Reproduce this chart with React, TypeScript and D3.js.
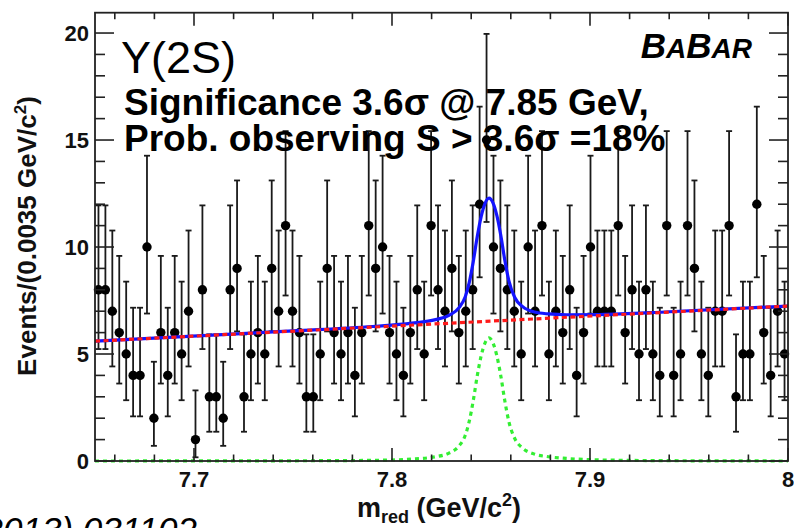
import React from "react";
import * as d3 from "d3";

// ---------- data ----------
const massMin = 7.65;
const massMax = 8.0;
const binWidth = 0.0035;
const counts = [
  8, 8, 7, 6, 5, 4, 4, 10, 2, 6,
  4, 6, 5, 7, 1, 8, 3, 3, 2, 8,
  9, 3, 5, 6, 5, 9, 7, 11, 7, 6,
  3, 3, 5, 9, 6, 5, 6, 4, 6, 11,
  9, 10, 6, 5, 4, 6, 8, 5, 11, 8,
  7, 9, 6, 7, 8, 12, 15, 10, 9, 8,
  7, 5, 10, 7, 11, 5, 7, 6, 8, 4,
  6, 10, 7, 7, 7, 11, 6, 8, 5, 8,
  5, 4, 11, 4, 5, 11, 9, 5, 4, 7,
  7, 11, 3, 5, 5, 12, 6, 4, 7, 5,
];
// background fit (linear)
const bgMass = [7.65, 8.0];
const bgValue = [5.6, 7.24];
// signal fit
const sigMass = [7.65, 7.75, 7.79, 7.81, 7.822, 7.829, 7.834, 7.837, 7.839, 7.841, 7.843, 7.845, 7.847, 7.849, 7.851, 7.853, 7.855, 7.857, 7.859, 7.862, 7.866, 7.872, 7.879, 7.888, 7.905, 7.94, 8.0];
const sigValue = [0, 0.01, 0.03, 0.09, 0.2, 0.38, 0.72, 1.2, 1.85, 2.8, 3.95, 4.9, 5.52, 5.75, 5.52, 4.9, 3.95, 2.8, 1.85, 1.05, 0.6, 0.32, 0.2, 0.12, 0.05, 0.015, 0];

const xMinorTicks = d3.range(0, 18).map((k) => +(7.66 + 0.02 * k).toFixed(2));
const xMajorTicks = [7.7, 7.8, 7.9, 8.0];
const xTickLabels = ["7.7", "7.8", "7.9", "8"];
const yMinorTicks = d3.range(0, 21);
const yMajorTicks = [0, 5, 10, 15, 20];
const yTickLabels = ["0", "5", "10", "15", "20"];

// ---------- helpers ----------
const Q = 0.158655;
function poisCdf(k: number, mu: number) {
  let term = Math.exp(-mu);
  let s = term;
  for (let j = 1; j <= k; j++) {
    term *= mu / j;
    s += term;
  }
  return s;
}
function lowerErr(n: number) {
  if (n === 0) return 0;
  let a = 0, b = n;
  for (let it = 0; it < 60; it++) {
    const m = (a + b) / 2;
    if (1 - poisCdf(n - 1, m) < Q) a = m; else b = m;
  }
  return (a + b) / 2;
}
function upperErr(n: number) {
  let a = n, b = n + 10 + 5 * Math.sqrt(n + 1);
  for (let it = 0; it < 60; it++) {
    const m = (a + b) / 2;
    if (poisCdf(n, m) > Q) a = m; else b = m;
  }
  return (a + b) / 2;
}

const FONT = "'Liberation Sans', Arial, Helvetica, sans-serif";

export default function App() {
  const W = 794, H = 528;
  const left = 95, right = 788, top = 12.7, bottom = 461;
  const x = d3.scaleLinear().domain([massMin, massMax]).range([left, right]);
  const y = d3.scaleLinear().domain([0, 20.95]).range([bottom, top]);
  const bg = d3.scaleLinear().domain(bgMass).range(bgValue);

  const bins = counts.map((n, i) => ({
    m: massMin + (i + 0.5) * binWidth,
    n,
    lo: lowerErr(n),
    hi: upperErr(n),
  }));

  const line = d3
    .line<[number, number]>()
    .x((d) => x(d[0]))
    .y((d) => y(d[1]))
    .curve(d3.curveMonotoneX);

  const totalPts: [number, number][] = sigMass.map((m, i) => [m, bg(m) + sigValue[i]]);
  const bgPts: [number, number][] = bgMass.map((m, i) => [m, bgValue[i]]);
  const sigPts: [number, number][] = sigMass.map((m, i) => [m, sigValue[i]]);

  const axisColor = "#222";

  return (
    <svg
      width={W}
      height={H}
      style={{ position: "absolute", left: 0, top: 0, background: "#fff" }}
      fontFamily={FONT}
    >
      <rect x={0} y={0} width={W} height={H} fill="#fff" />

      {/* data points with error bars */}
      <g stroke="#1a1a1a" strokeWidth={1.8}>
        {bins.map((b, i) => {
          const cx = x(b.m);
          const y1 = y(b.lo);
          const y2 = y(b.hi);
          return (
            <g key={i}>
              <line x1={cx} x2={cx} y1={y1} y2={y2} />
              {b.n > 0 && <line x1={cx - 3} x2={cx + 3} y1={y1} y2={y1} />}
              <line x1={cx - 3} x2={cx + 3} y1={y2} y2={y2} />
            </g>
          );
        })}
      </g>
      <g fill="#000">
        {bins.map((b, i) => (
          <circle key={i} cx={x(b.m)} cy={y(b.n)} r={4.7} />
        ))}
      </g>

      {/* fit curves */}
      <path d={line(totalPts) || ""} fill="none" stroke="#1414ff" strokeWidth={3.2} />
      <path d={line(bgPts) || ""} fill="none" stroke="#ff1a1a" strokeWidth={3.2} strokeDasharray="5,3.5" />
      <path d={line(sigPts) || ""} fill="none" stroke="#33ee33" strokeWidth={3.2} strokeDasharray="4,4" />

      {/* frame */}
      <rect x={left} y={top} width={right - left} height={bottom - top} fill="none" stroke={axisColor} strokeWidth={1.8} />

      {/* ticks */}
      <g stroke={axisColor} strokeWidth={1.6}>
        {xMinorTicks.map((t, i) => {
          const major = xMajorTicks.some((m) => Math.abs(m - t) < 1e-6);
          const len = major ? 13 : 6.5;
          return (
            <g key={i}>
              <line x1={x(t)} x2={x(t)} y1={bottom} y2={bottom - len} />
              <line x1={x(t)} x2={x(t)} y1={top} y2={top + len} />
            </g>
          );
        })}
        {yMinorTicks.map((t, i) => {
          const major = yMajorTicks.includes(t);
          const len = major ? 19 : 10;
          return (
            <g key={i}>
              <line x1={left} x2={left + len} y1={y(t)} y2={y(t)} />
              <line x1={right} x2={right - len} y1={y(t)} y2={y(t)} />
            </g>
          );
        })}
      </g>

      {/* tick labels */}
      <g fontWeight="bold" fontSize={22} fill="#111">
        {xMajorTicks.map((t, i) => (
          <text key={i} x={x(t)} y={487} textAnchor="middle">
            {xTickLabels[i]}
          </text>
        ))}
        {yMajorTicks.map((t, i) => (
          <text key={i} x={89} y={y(t) + 8} textAnchor="end">
            {yTickLabels[i]}
          </text>
        ))}
      </g>

      {/* axis titles */}
      <text x={357} y={517} fontWeight="bold" fontSize={27} fill="#111">
        m<tspan fontSize={18} dy={6}>red</tspan>
        <tspan dy={-6}> (GeV/c</tspan>
        <tspan fontSize={18} dy={-11}>2</tspan>
        <tspan dy={11}>)</tspan>
      </text>
      <text
        transform={`translate(36,236) rotate(-90)`}
        textAnchor="middle"
        fontWeight="bold"
        fontSize={26}
        fill="#111"
      >
        Events/(0.0035 GeV/c<tspan fontSize={17} dy={-10}>2</tspan>
        <tspan dy={10}>)</tspan>
      </text>

      {/* annotations */}
      <text x={121} y={73} fontSize={45} fill="#000">
        Y(2S)
      </text>
      <text x={124} y={115} fontSize={37} fontWeight="bold" fill="#000">
        Significance 3.6σ @ 7.85 GeV,
      </text>
      <text x={124} y={151} fontSize={37} fontWeight="bold" fill="#000">
        Prob. observing S &gt; 3.6σ =18%
      </text>
      <text x={752} y={58} textAnchor="end" fontWeight="bold" fontStyle="italic" fill="#000">
        <tspan fontSize={35}>B</tspan>
        <tspan fontSize={28}>A</tspan>
        <tspan fontSize={35}>B</tspan>
        <tspan fontSize={28}>AR</tspan>
      </text>
      <text x={197} y={542} textAnchor="end" fontStyle="italic" fontSize={35} fill="#000">
        (2013) 031102
      </text>
    </svg>
  );
}
